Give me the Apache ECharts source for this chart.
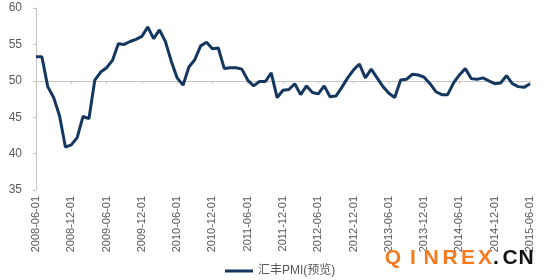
<!DOCTYPE html>
<html>
<head>
<meta charset="utf-8">
<script src="https://cdn.jsdelivr.net/npm/echarts@6/dist/echarts.min.js"></script>
<style>html,body{margin:0;padding:0;background:#fff}#c{width:554px;height:280px}</style>
</head>
<body>
<div id="c"></div>
<script>
const categories = [
 '2008-06-01','2008-07-01','2008-08-01','2008-09-01','2008-10-01','2008-11-01','2008-12-01',
 '2009-01-01','2009-02-01','2009-03-01','2009-04-01','2009-05-01','2009-06-01','2009-07-01','2009-08-01','2009-09-01','2009-10-01','2009-11-01','2009-12-01',
 '2010-01-01','2010-02-01','2010-03-01','2010-04-01','2010-05-01','2010-06-01','2010-07-01','2010-08-01','2010-09-01','2010-10-01','2010-11-01','2010-12-01',
 '2011-01-01','2011-02-01','2011-03-01','2011-04-01','2011-05-01','2011-06-01','2011-07-01','2011-08-01','2011-09-01','2011-10-01','2011-11-01','2011-12-01',
 '2012-01-01','2012-02-01','2012-03-01','2012-04-01','2012-05-01','2012-06-01','2012-07-01','2012-08-01','2012-09-01','2012-10-01','2012-11-01','2012-12-01',
 '2013-01-01','2013-02-01','2013-03-01','2013-04-01','2013-05-01','2013-06-01','2013-07-01','2013-08-01','2013-09-01','2013-10-01','2013-11-01','2013-12-01',
 '2014-01-01','2014-02-01','2014-03-01','2014-04-01','2014-05-01','2014-06-01','2014-07-01','2014-08-01','2014-09-01','2014-10-01','2014-11-01','2014-12-01',
 '2015-01-01','2015-02-01','2015-03-01','2015-04-01','2015-05-01','2015-06-01'
];
const pmiValues = [
 53.3, 53.3, 49.2, 47.7, 45.2, 40.9, 41.2,
 42.2, 45.1, 44.8, 50.1, 51.2, 51.8, 52.8, 55.1, 55.0, 55.4, 55.7, 56.1,
 57.4, 55.8, 57.0, 55.4, 52.7, 50.4, 49.4, 51.9, 52.9, 54.8, 55.3, 54.4,
 54.5, 51.7, 51.8, 51.8, 51.6, 50.1, 49.3, 49.9, 49.9, 51.1, 47.7, 48.7,
 48.8, 49.6, 48.1, 49.3, 48.4, 48.2, 49.3, 47.8, 47.9, 49.1, 50.4, 51.5,
 52.3, 50.4, 51.6, 50.4, 49.2, 48.3, 47.7, 50.1, 50.2, 50.9, 50.8, 50.5,
 49.6, 48.5, 48.1, 48.1, 49.7, 50.8, 51.7, 50.3, 50.2, 50.4, 50.0, 49.6,
 49.7, 50.7, 49.6, 49.2, 49.1, 49.6
];
const seriesName = '汇丰PMI(预览)';
const yMin = 35, yMax = 60, yStep = 5;
const crossValue = 50;

const FONT = 'Liberation Sans, Arial, Noto Sans CJK SC, sans-serif';
const gridTop = 8, gridBottom = 90, plotH = 280 - gridTop - gridBottom;
const crossOffset = -plotH * (crossValue - yMin) / (yMax - yMin);

const chart = echarts.init(document.getElementById('c'), null, {renderer: 'canvas'});
const wm = [
  ['Q', 393, '#f47a20'], ['I', 413, '#f47a20'], ['N', 431, '#f47a20'], ['R', 450, '#f47a20'],
  ['E', 468, '#f47a20'], ['X', 485, '#f47a20'], ['.', 496, '#111'], ['C', 510, '#111'], ['N', 526, '#111']
];
chart.setOption({
  animation: false,
  backgroundColor: '#ffffff',
  grid: {left: 36, right: 24, top: gridTop, bottom: gridBottom, containLabel: false},
  legend: {
    left: 220, top: 260, icon: 'rect', itemWidth: 28, itemHeight: 3, itemGap: 10,
    textStyle: {fontSize: 12, color: '#595959', fontFamily: FONT},
    data: [seriesName]
  },
  xAxis: [
    {
      type: 'category', data: categories, boundaryGap: false,
      axisLine: {show: false}, axisTick: {show: false}, splitLine: {show: false},
      axisLabel: {interval: 5, rotate: 90, margin: 6, fontSize: 11, color: '#595959', fontFamily: FONT}
    },
    {
      type: 'category', data: categories, boundaryGap: false, position: 'bottom', offset: crossOffset,
      axisLine: {show: true, lineStyle: {color: '#c4c4c4', width: 1}},
      axisTick: {show: true, interval: 5, length: 3, lineStyle: {color: '#c4c4c4'}},
      axisLabel: {show: false}, splitLine: {show: false}
    }
  ],
  yAxis: {
    type: 'value', min: yMin, max: yMax, interval: yStep,
    axisLine: {show: true, lineStyle: {color: '#c4c4c4'}},
    axisTick: {show: true, length: 3, lineStyle: {color: '#c4c4c4'}},
    splitLine: {show: false},
    axisLabel: {margin: 14, fontSize: 12, color: '#595959', fontFamily: FONT}
  },
  series: [{
    name: seriesName, type: 'line', data: pmiValues, xAxisIndex: 0,
    symbol: 'none', smooth: false, z: 5,
    lineStyle: {width: 3, color: '#14375f'}, itemStyle: {color: '#14375f'}
  }],
  graphic: wm.map(([t, x, c]) => ({
    type: 'text', x: x, y: 258, z: 100,
    style: {text: t, fill: c, fontSize: 21, fontWeight: 'bold', fontFamily: FONT, align: 'center', verticalAlign: 'middle'}
  }))
});
</script>
</body>
</html>
